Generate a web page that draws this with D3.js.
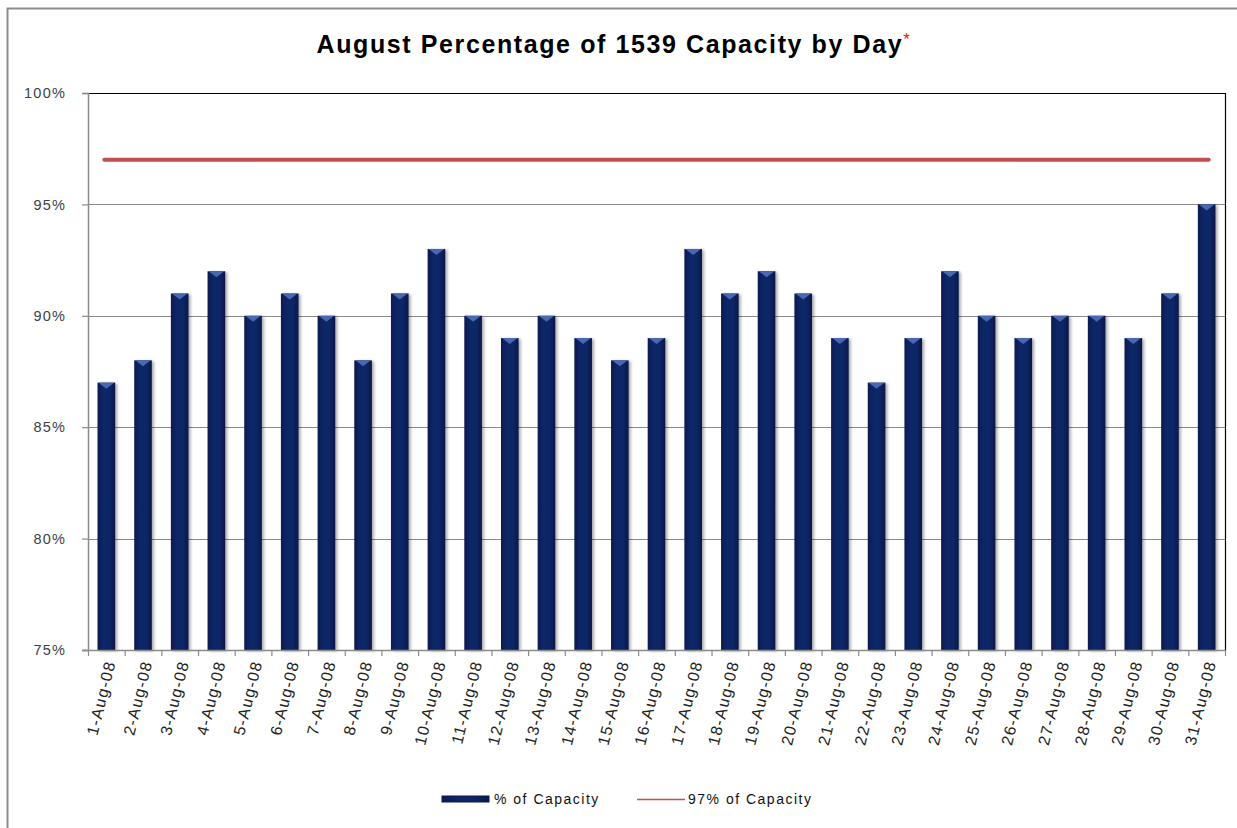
<!DOCTYPE html>
<html>
<head>
<meta charset="utf-8">
<script src="https://cdn.jsdelivr.net/npm/d3@7"></script>
<style>
  body { margin: 0; background: #fff; }
  svg text { font-family: "Liberation Sans", Arial, sans-serif; }
</style>
</head>
<body>
<div id="chart"></div>
<script>
// data
const days = ["1-Aug-08","2-Aug-08","3-Aug-08","4-Aug-08","5-Aug-08","6-Aug-08","7-Aug-08","8-Aug-08",
  "9-Aug-08","10-Aug-08","11-Aug-08","12-Aug-08","13-Aug-08","14-Aug-08","15-Aug-08","16-Aug-08",
  "17-Aug-08","18-Aug-08","19-Aug-08","20-Aug-08","21-Aug-08","22-Aug-08","23-Aug-08","24-Aug-08",
  "25-Aug-08","26-Aug-08","27-Aug-08","28-Aug-08","29-Aug-08","30-Aug-08","31-Aug-08"];
const capacity = [87,88,91,92,90,91,90,88,91,93,90,89,90,89,88,89,93,91,92,91,89,87,89,92,90,89,90,90,89,91,95];
const target = 97;
const yTicks = [75,80,85,90,95,100];

const W = 1237, H = 828;
const margin = {top:93, right:12, bottom:178, left:88};
const width = W - margin.left - margin.right;
const height = H - margin.top - margin.bottom;

const svg = d3.select("#chart").append("svg")
    .attr("width", W)
    .attr("height", H);

// outer frame
svg.append("path")
    .attr("d", "M7.5," + H + " L7.5,8.5 L" + W + ",8.5")
    .attr("fill", "none")
    .attr("stroke", "#8c8c8c")
    .attr("stroke-width", 2);

const defs = svg.append("defs");
const grad = defs.append("linearGradient").attr("id", "barGrad").attr("x1", "0").attr("x2", "1");
grad.append("stop").attr("offset", "0%").attr("stop-color", "#0a1b50");
grad.append("stop").attr("offset", "30%").attr("stop-color", "#0f2566");
grad.append("stop").attr("offset", "70%").attr("stop-color", "#0f2566");
grad.append("stop").attr("offset", "100%").attr("stop-color", "#081746");
const shadow = defs.append("filter").attr("id", "shadow").attr("x", "-50%").attr("width", "200%");
shadow.append("feDropShadow").attr("dx", 2).attr("dy", 1).attr("stdDeviation", 1.5)
    .attr("flood-color", "#000").attr("flood-opacity", 0.35);

const chart = svg.append("g")
    .attr("transform", "translate(" + margin.left + "," + margin.top + ")");

const x = d3.scaleBand()
    .domain(days)
    .range([0, width])
    .paddingInner(0.52)
    .paddingOuter(0.26);

const y = d3.scaleLinear()
    .domain([75, 100])
    .range([height, 0]);

// gridlines
chart.append("g")
  .selectAll("line")
  .data(yTicks)
  .enter().append("line")
    .attr("x1", 0)
    .attr("x2", width)
    .attr("y1", d => Math.round(y(d)) + 0.5)
    .attr("y2", d => Math.round(y(d)) + 0.5)
    .attr("stroke", d => d === 100 ? "#000" : "#8a8a8a")
    .attr("stroke-width", 1.2);

// right border of plot area
chart.append("line")
    .attr("x1", width + 0.5).attr("x2", width + 0.5)
    .attr("y1", 0).attr("y2", height)
    .attr("stroke", "#000").attr("stroke-width", 1.2);

// bars
const bars = chart.append("g")
  .selectAll("g")
  .data(capacity)
  .enter().append("g");

bars.append("rect")
    .attr("x", (d, i) => x(days[i]))
    .attr("y", d => y(d))
    .attr("width", x.bandwidth())
    .attr("height", d => height - y(d))
    .attr("fill", "url(#barGrad)")
    .attr("filter", "url(#shadow)");

// lighter bevel on the top of each bar
bars.append("path")
    .attr("d", function(d, i) {
      const x0 = x(days[i]), bw = x.bandwidth(), y0 = y(d);
      return "M" + (x0 + 1) + "," + y0 + " L" + (x0 + bw - 1) + "," + y0 +
             " L" + (x0 + bw / 2) + "," + (y0 + 6) + " Z";
    })
    .attr("fill", "#4a68b0");

// 97% line
chart.append("line")
    .attr("x1", x(days[0]) + x.bandwidth() / 2 - 2)
    .attr("x2", x(days[days.length - 1]) + x.bandwidth() / 2 + 2)
    .attr("y1", y(target))
    .attr("y2", y(target))
    .attr("stroke", "#c0504d")
    .attr("stroke-width", 4)
    .attr("stroke-linecap", "round");

// y axis
const yAxis = chart.append("g")
    .attr("class", "axis")
    .call(d3.axisLeft(y).tickValues(yTicks).tickFormat(d => d + "%").tickSize(6).tickPadding(16));
yAxis.select(".domain").attr("stroke", "#8a8a8a").attr("stroke-width", 1.5);
yAxis.selectAll(".tick line").attr("stroke", "#8a8a8a").attr("stroke-width", 1.2);
yAxis.selectAll(".tick text")
    .attr("font-size", 14.5)
    .attr("letter-spacing", 1.2)
    .attr("fill", "#3a3f4a")
    .attr("font-family", "Liberation Sans, Arial, sans-serif");

// x axis
const xAxis = chart.append("g")
    .attr("transform", "translate(0," + height + ")");
xAxis.append("line")
    .attr("x1", -6).attr("x2", width)
    .attr("y1", 0.5).attr("y2", 0.5)
    .attr("stroke", "#8a8a8a").attr("stroke-width", 1.5);
xAxis.selectAll("line.tk")
  .data(d3.range(days.length + 1))
  .enter().append("line")
    .attr("class", "tk")
    .attr("x1", i => i * x.step() + 0.5)
    .attr("x2", i => i * x.step() + 0.5)
    .attr("y1", 0).attr("y2", 6)
    .attr("stroke", "#8a8a8a").attr("stroke-width", 1.2);
xAxis.selectAll("text")
  .data(days)
  .enter().append("text")
    .attr("transform", d => "translate(" + (x(d) + x.bandwidth() / 2 + 4) + ",11) rotate(-76)")
    .attr("text-anchor", "end")
    .attr("dy", "0.35em")
    .attr("font-size", 16)
    .attr("letter-spacing", 1.3)
    .attr("fill", "#222")
    .text(d => d);

// title
const title = svg.append("text")
    .attr("x", 614)
    .attr("y", 53)
    .attr("text-anchor", "middle")
    .attr("font-size", 25)
    .attr("letter-spacing", 1.6)
    .attr("font-weight", "bold")
    .attr("fill", "#000");
title.append("tspan").text("August Percentage of 1539 Capacity by Day");
title.append("tspan").text("*")
    .attr("fill", "#e02020")
    .attr("font-weight", "normal")
    .attr("font-size", 17)
    .attr("dy", -8);

// legend
const legend = svg.append("g")
    .attr("font-size", 14)
    .attr("letter-spacing", 1.5)
    .attr("fill", "#111");
legend.append("rect")
    .attr("x", 442).attr("y", 796)
    .attr("width", 47).attr("height", 6)
    .attr("fill", "url(#barGrad)")
    .attr("stroke", "#0a1b50");
legend.append("text")
    .attr("x", 494).attr("y", 804)
    .text("% of Capacity");
legend.append("line")
    .attr("x1", 637).attr("x2", 685)
    .attr("y1", 799.5).attr("y2", 799.5)
    .attr("stroke", "#c0504d").attr("stroke-width", 1.5);
legend.append("text")
    .attr("x", 688).attr("y", 804)
    .text("97% of Capacity");
</script>
</body>
</html>
